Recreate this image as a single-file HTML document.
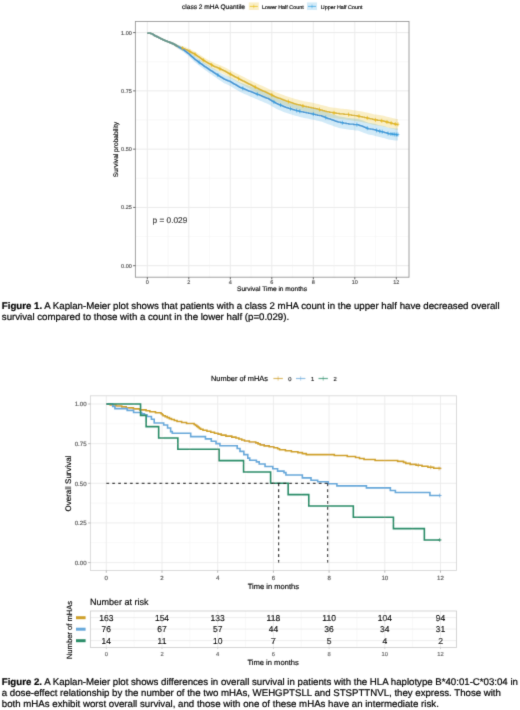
<!DOCTYPE html>
<html><head><meta charset="utf-8"><style>
html,body{margin:0;padding:0;background:#fff;}
body{text-rendering:geometricPrecision;width:520px;height:710px;position:relative;overflow:hidden;font-family:"Liberation Sans", sans-serif;}
svg{position:absolute;left:0;top:0;}
svg text{font-family:"Liberation Sans", sans-serif;stroke-width:0.15px;}
.cap{position:absolute;left:1.8px;font-size:9.68px;line-height:11.2px;color:#000;white-space:nowrap;}
.cap b{font-weight:bold;}
.cap{filter:url(#bl);-webkit-text-stroke:0.2px #000;}
</style></head><body>
<svg width="520" height="710" viewBox="0 0 520 710">
<defs><filter id="bl" x="-5%" y="-20%" width="110%" height="140%"><feConvolveMatrix order="3" kernelMatrix="0.015 0.085 0.015 0.085 0.6 0.085 0.015 0.085 0.015" divisor="1" edgeMode="none" preserveAlpha="false"/></filter></defs>
<g filter="url(#bl)">
<rect x="135.4" y="21.5" width="273.6" height="255.7" fill="#fff"/>
<line x1="168.05" x2="168.05" y1="21.5" y2="277.2" stroke="#f4f4f4" stroke-width="0.6"/>
<line x1="209.55" x2="209.55" y1="21.5" y2="277.2" stroke="#f4f4f4" stroke-width="0.6"/>
<line x1="251.05" x2="251.05" y1="21.5" y2="277.2" stroke="#f4f4f4" stroke-width="0.6"/>
<line x1="292.55" x2="292.55" y1="21.5" y2="277.2" stroke="#f4f4f4" stroke-width="0.6"/>
<line x1="334.05" x2="334.05" y1="21.5" y2="277.2" stroke="#f4f4f4" stroke-width="0.6"/>
<line x1="375.55" x2="375.55" y1="21.5" y2="277.2" stroke="#f4f4f4" stroke-width="0.6"/>
<line x1="135.4" x2="409.0" y1="236.56" y2="236.56" stroke="#f4f4f4" stroke-width="0.6"/>
<line x1="135.4" x2="409.0" y1="178.29" y2="178.29" stroke="#f4f4f4" stroke-width="0.6"/>
<line x1="135.4" x2="409.0" y1="120.01" y2="120.01" stroke="#f4f4f4" stroke-width="0.6"/>
<line x1="135.4" x2="409.0" y1="61.74" y2="61.74" stroke="#f4f4f4" stroke-width="0.6"/>
<line x1="147.30" x2="147.30" y1="21.5" y2="277.2" stroke="#ebebeb" stroke-width="1"/>
<line x1="188.80" x2="188.80" y1="21.5" y2="277.2" stroke="#ebebeb" stroke-width="1"/>
<line x1="230.30" x2="230.30" y1="21.5" y2="277.2" stroke="#ebebeb" stroke-width="1"/>
<line x1="271.80" x2="271.80" y1="21.5" y2="277.2" stroke="#ebebeb" stroke-width="1"/>
<line x1="313.30" x2="313.30" y1="21.5" y2="277.2" stroke="#ebebeb" stroke-width="1"/>
<line x1="354.80" x2="354.80" y1="21.5" y2="277.2" stroke="#ebebeb" stroke-width="1"/>
<line x1="396.30" x2="396.30" y1="21.5" y2="277.2" stroke="#ebebeb" stroke-width="1"/>
<line x1="135.4" x2="409.0" y1="265.70" y2="265.70" stroke="#ebebeb" stroke-width="1"/>
<line x1="135.4" x2="409.0" y1="207.42" y2="207.42" stroke="#ebebeb" stroke-width="1"/>
<line x1="135.4" x2="409.0" y1="149.15" y2="149.15" stroke="#ebebeb" stroke-width="1"/>
<line x1="135.4" x2="409.0" y1="90.88" y2="90.88" stroke="#ebebeb" stroke-width="1"/>
<line x1="135.4" x2="409.0" y1="32.60" y2="32.60" stroke="#ebebeb" stroke-width="1"/>
<path d="M147.30,33.20L148.87,33.23L150.43,33.27L152.00,33.50L153.57,34.46L155.13,35.33L156.70,36.06L158.27,36.79L159.83,37.50L161.40,38.19L162.97,38.88L164.53,39.52L166.10,40.03L167.67,40.54L169.23,41.03L170.80,41.60L172.37,42.17L173.93,42.74L175.50,43.54L177.07,44.34L178.63,45.14L180.20,45.57L181.77,45.99L183.33,46.42L184.90,46.84L186.47,47.53L188.03,48.24L189.60,48.96L191.17,49.68L192.73,50.39L194.30,51.13L195.87,52.12L197.43,53.17L199.00,54.22L200.57,55.27L202.13,56.32L203.70,57.37L205.27,58.25L206.83,59.07L208.40,59.89L209.97,60.71L211.53,61.53L213.10,62.35L214.66,63.06L216.23,63.69L217.80,64.32L219.36,64.96L220.93,65.59L222.50,66.22L224.06,66.93L225.63,67.77L227.20,68.61L228.76,69.45L230.33,70.29L231.90,71.11L233.46,71.91L235.03,72.70L236.60,73.50L238.16,74.29L239.73,75.08L241.30,75.85L242.86,76.61L244.43,77.37L246.00,78.13L247.56,78.90L249.13,79.66L250.70,80.42L252.26,81.18L253.83,81.94L255.40,82.71L256.96,83.47L258.53,84.23L260.10,84.93L261.66,85.62L263.23,86.32L264.80,87.02L266.36,87.71L267.93,88.41L269.50,89.16L271.06,89.94L272.63,90.72L274.20,91.50L275.76,92.18L277.33,92.76L278.90,93.35L280.46,93.93L282.03,94.51L283.60,95.10L285.16,95.66L286.73,96.18L288.30,96.71L289.86,97.23L291.43,97.75L293.00,98.27L294.56,98.76L296.13,99.17L297.70,99.58L299.26,99.98L300.83,100.39L302.40,100.80L303.96,101.19L305.53,101.47L307.10,101.76L308.66,102.04L310.23,102.33L311.80,102.61L313.36,102.90L314.93,103.29L316.50,103.69L318.06,104.09L319.63,104.49L321.20,104.89L322.76,105.29L324.33,105.69L325.90,106.09L327.46,106.49L329.03,106.89L330.60,107.19L332.16,107.41L333.73,107.64L335.29,107.86L336.86,108.09L338.43,108.31L339.99,108.50L341.56,108.64L343.13,108.79L344.69,108.94L346.26,109.09L347.83,109.23L349.39,109.42L350.96,109.68L352.53,109.94L354.09,110.19L355.66,110.45L357.23,110.71L358.79,110.97L360.36,111.27L361.93,111.57L363.49,111.87L365.06,112.17L366.63,112.47L368.19,112.78L369.76,113.18L371.33,113.59L372.89,113.99L374.46,114.38L376.03,114.61L377.59,114.83L379.16,115.05L380.73,115.28L382.29,115.50L383.86,115.73L385.43,116.18L386.99,116.63L388.56,117.09L390.13,117.47L391.69,117.84L393.26,118.21L394.83,118.59L396.39,118.94L397.96,118.94L397.96,129.74L396.39,129.74L394.83,129.38L393.26,128.99L391.69,128.61L390.13,128.22L388.56,127.83L386.99,127.37L385.43,126.90L383.86,126.44L382.29,126.20L380.73,125.96L379.16,125.73L377.59,125.49L376.03,125.26L374.46,125.02L372.89,124.63L371.33,124.21L369.76,123.79L368.19,123.38L366.63,123.06L365.06,122.75L363.49,122.43L361.93,122.12L360.36,121.81L358.79,121.50L357.23,121.22L355.66,120.96L354.09,120.69L352.53,120.42L350.96,120.15L349.39,119.88L347.83,119.68L346.26,119.52L344.69,119.37L343.13,119.21L341.56,119.05L339.99,118.89L338.43,118.69L336.86,118.46L335.29,118.22L333.73,117.99L332.16,117.75L330.60,117.52L329.03,117.21L327.46,116.79L325.90,116.38L324.33,115.97L322.76,115.56L321.20,115.15L319.63,114.73L318.06,114.32L316.50,113.91L314.93,113.50L313.36,113.10L311.80,112.78L310.23,112.47L308.66,112.16L307.10,111.84L305.53,111.53L303.96,111.21L302.40,110.79L300.83,110.36L299.26,109.92L297.70,109.49L296.13,109.05L294.56,108.62L293.00,108.09L291.43,107.54L289.86,106.99L288.30,106.44L286.73,105.89L285.16,105.34L283.60,104.75L282.03,104.14L280.46,103.52L278.90,102.91L277.33,102.29L275.76,101.68L274.20,100.98L272.63,100.17L271.06,99.36L269.50,98.55L267.93,97.77L266.36,97.04L264.80,96.32L263.23,95.59L261.66,94.87L260.10,94.14L258.53,93.39L256.96,92.54L255.40,91.70L253.83,90.85L252.26,90.01L250.70,89.17L249.13,88.32L247.56,87.48L246.00,86.63L244.43,85.79L242.86,84.94L241.30,84.10L239.73,83.25L238.16,82.38L236.60,81.50L235.03,80.62L233.46,79.75L231.90,78.87L230.33,77.96L228.76,77.04L227.20,76.12L225.63,75.20L224.06,74.28L222.50,73.48L220.93,72.77L219.36,72.05L217.80,71.34L216.23,70.62L214.66,69.91L213.10,69.11L211.53,68.17L209.97,67.23L208.40,66.28L206.83,65.34L205.27,64.40L203.70,63.40L202.13,62.23L200.57,61.06L199.00,59.89L197.43,58.72L195.87,57.55L194.30,56.44L192.73,55.57L191.17,54.68L189.60,53.79L188.03,52.90L186.47,52.01L184.90,51.15L183.33,50.56L181.77,49.96L180.20,49.36L178.63,48.76L177.07,47.73L175.50,46.69L173.93,45.65L172.37,44.83L170.80,44.02L169.23,43.21L167.67,42.51L166.10,41.84L164.53,41.18L162.97,40.39L161.40,39.55L159.83,38.71L158.27,37.84L156.70,36.96L155.13,36.08L153.57,35.06L152.00,33.95L150.43,33.57L148.87,33.38L147.30,33.20Z" fill="#E7B800" fill-opacity="0.22"/>
<path d="M147.30,33.20L148.87,33.23L150.43,33.27L152.00,33.50L153.57,34.46L155.13,35.33L156.70,36.06L158.27,36.79L159.83,37.50L161.40,38.19L162.97,38.88L164.53,39.52L166.10,40.03L167.67,40.54L169.23,41.01L170.80,41.55L172.37,42.08L173.93,42.63L175.50,43.40L177.07,44.17L178.63,44.94L180.20,45.75L181.77,46.56L183.33,47.37L184.90,48.40L186.47,49.44L188.03,50.48L189.60,51.74L191.17,53.01L192.73,54.29L194.30,55.61L195.87,56.81L197.43,57.90L199.00,58.99L200.57,60.07L202.13,61.16L203.70,62.25L205.27,63.28L206.83,64.26L208.40,65.23L209.97,66.20L211.53,67.17L213.10,68.15L214.66,69.11L216.23,70.07L217.80,71.03L219.36,71.98L220.93,72.94L222.50,73.90L224.06,74.81L225.63,75.40L227.20,75.99L228.76,76.58L230.33,77.21L231.90,78.07L233.46,78.94L235.03,79.80L236.60,80.66L238.16,81.53L239.73,82.37L241.30,82.97L242.86,83.56L244.43,84.16L246.00,84.75L247.56,85.35L249.13,85.95L250.70,86.50L252.26,87.06L253.83,87.62L255.40,88.18L256.96,88.73L258.53,89.29L260.10,89.89L261.66,90.52L263.23,91.15L264.80,91.77L266.36,92.40L267.93,93.03L269.50,93.85L271.06,94.77L272.63,95.69L274.20,96.61L275.76,97.53L277.33,98.22L278.90,98.88L280.46,99.54L282.03,100.21L283.60,100.87L285.16,101.47L286.73,101.96L288.30,102.45L289.86,102.94L291.43,103.43L293.00,103.92L294.56,104.38L296.13,104.75L297.70,105.13L299.26,105.50L300.83,105.88L302.40,106.25L303.96,106.61L305.53,106.90L307.10,107.19L308.66,107.49L310.23,107.78L311.80,108.07L313.36,108.36L314.93,108.71L316.50,109.06L318.06,109.42L319.63,109.77L321.20,110.13L322.76,110.65L324.33,111.23L325.90,111.81L327.46,112.39L329.03,112.98L330.60,113.53L332.16,114.06L333.73,114.59L335.29,115.12L336.86,115.65L338.43,116.18L339.99,116.58L341.56,116.84L343.13,117.10L344.69,117.36L346.26,117.63L347.83,117.89L349.39,118.10L350.96,118.25L352.53,118.39L354.09,118.54L355.66,118.68L357.23,118.82L358.79,119.05L360.36,119.65L361.93,120.26L363.49,120.86L365.06,121.47L366.63,122.08L368.19,122.66L369.76,122.95L371.33,123.24L372.89,123.52L374.46,123.83L376.03,124.28L377.59,124.73L379.16,125.18L380.73,125.48L382.29,125.78L383.86,126.08L385.43,126.61L386.99,127.14L388.56,127.67L390.13,127.87L391.69,128.06L393.26,128.24L394.83,128.42L396.39,128.60L397.96,128.60L397.96,140.60L396.39,140.60L394.83,140.41L393.26,140.22L391.69,140.02L390.13,139.83L388.56,139.62L386.99,139.08L385.43,138.53L383.86,137.99L382.29,137.68L380.73,137.37L379.16,137.06L377.59,136.60L376.03,136.13L374.46,135.67L372.89,135.35L371.33,135.06L369.76,134.76L368.19,134.46L366.63,133.86L365.06,133.25L363.49,132.63L361.93,132.01L360.36,131.39L358.79,130.77L357.23,130.54L355.66,130.39L354.09,130.23L352.53,130.08L350.96,129.92L349.39,129.76L347.83,129.54L346.26,129.26L344.69,128.99L343.13,128.72L341.56,128.44L339.99,128.17L338.43,127.76L336.86,127.22L335.29,126.68L333.73,126.13L332.16,125.59L330.60,125.05L329.03,124.49L327.46,123.90L325.90,123.30L324.33,122.71L322.76,122.12L321.20,121.59L319.63,121.22L318.06,120.85L316.50,120.49L314.93,120.12L313.36,119.76L311.80,119.45L310.23,119.14L308.66,118.83L307.10,118.53L305.53,118.22L303.96,117.91L302.40,117.53L300.83,117.14L299.26,116.75L297.70,116.35L296.13,115.96L294.56,115.57L293.00,115.09L291.43,114.59L289.86,114.08L288.30,113.57L286.73,113.07L285.16,112.56L283.60,111.94L282.03,111.26L280.46,110.58L278.90,109.90L277.33,109.22L275.76,108.51L274.20,107.57L272.63,106.64L271.06,105.70L269.50,104.76L267.93,103.93L266.36,103.28L264.80,102.63L263.23,101.99L261.66,101.34L260.10,100.70L258.53,100.03L256.96,99.37L255.40,98.70L253.83,98.03L252.26,97.36L250.70,96.70L249.13,96.03L247.56,95.32L246.00,94.62L244.43,93.91L242.86,93.21L241.30,92.50L239.73,91.80L238.16,90.84L236.60,89.87L235.03,88.89L233.46,87.92L231.90,86.95L230.33,85.97L228.76,85.23L227.20,84.53L225.63,83.83L224.06,83.13L222.50,82.11L220.93,81.05L219.36,79.98L217.80,78.91L216.23,77.85L214.66,76.78L213.10,75.70L211.53,74.61L209.97,73.51L208.40,72.42L206.83,71.33L205.27,70.23L203.70,69.08L202.13,67.87L200.57,66.66L199.00,65.45L197.43,64.24L195.87,63.04L194.30,61.72L192.73,60.26L191.17,58.77L189.60,57.27L188.03,55.80L186.47,54.55L184.90,53.29L183.33,52.05L181.77,51.02L180.20,49.99L178.63,48.97L177.07,47.90L175.50,46.83L173.93,45.77L172.37,44.91L170.80,44.08L169.23,43.24L167.67,42.51L166.10,41.84L164.53,41.18L162.97,40.39L161.40,39.55L159.83,38.71L158.27,37.84L156.70,36.96L155.13,36.08L153.57,35.06L152.00,33.95L150.43,33.57L148.87,33.38L147.30,33.20Z" fill="#2E9FDF" fill-opacity="0.22"/>
<path d="M147.30,33.20H150.66V33.67H152.28V34.13H152.99V34.60H153.69V35.06H154.40V35.53H155.27V36.00H156.18V36.46H157.09V36.93H158.01V37.40H158.92V37.86H159.83V38.33H160.79V38.79H161.74V39.26H162.70V39.73H163.65V40.19H164.73V40.66H165.98V41.13H167.22V41.59H168.47V42.06H169.63V42.52H170.71V42.99H171.74V43.46H172.82V43.92H173.86V44.39H174.69V44.85H175.48V45.32H176.27V45.79H177.06V46.25H177.84V46.72H178.63V47.19H180.09V47.65H181.50V48.12H182.95V48.58H184.36V49.05H185.52V49.52H186.43V49.98H187.35V50.45H188.26V50.92H189.17V51.38H190.09V51.85H191.00V52.31H191.91V52.78H192.83V53.25H193.74V53.71H194.61V54.18H195.27V54.65H195.94V55.11H196.60V55.58H197.27V56.04H197.93V56.51H198.59V56.98H199.26V57.44H199.88V57.91H200.54V58.37H201.21V58.84H201.87V59.31H202.54V59.77H203.20V60.24H203.86V60.71H204.57V61.17H205.40V61.64H206.23V62.10H207.06V62.57H207.89V63.04H208.72V63.50H209.55V63.97H210.38V64.44H211.21V64.90H212.04V65.37H212.87V65.83H213.70V66.30H214.82V66.77H215.90V67.23H216.98V67.70H218.06V68.17H219.14V68.63H220.22V69.10H221.29V69.56H222.37V70.03H223.45V70.50H224.28V70.96H225.11V71.43H225.94V71.89H226.77V72.36H227.60V72.83H228.43V73.29H229.26V73.76H230.09V74.23H230.92V74.69H231.79V75.16H232.67V75.62H233.54V76.09H234.41V76.56H235.28V77.02H236.15V77.49H237.02V77.96H237.89V78.42H238.77V78.89H239.64V79.35H240.55V79.82H241.46V80.29H242.38V80.75H243.29V81.22H244.20V81.68H245.12V82.15H246.03V82.62H246.94V83.08H247.85V83.55H248.77V84.02H249.64V84.48H250.55V84.95H251.47V85.41H252.38V85.88H253.29V86.35H254.20V86.81H255.12V87.28H256.03V87.75H256.94V88.21H257.86V88.68H258.73V89.14H259.76V89.61H260.80V90.08H261.84V90.54H262.84V91.01H263.87V91.48H264.91V91.94H265.95V92.41H266.94V92.87H267.98V93.34H268.98V93.81H269.89V94.27H270.80V94.74H271.72V95.20H272.63V95.67H273.54V96.14H274.46V96.60H275.53V97.07H276.78V97.54H277.98V98.00H279.19V98.47H280.43V98.93H281.64V99.40H282.84V99.87H284.08V100.33H285.37V100.80H286.74V101.27H288.11V101.73H289.44V102.20H290.81V102.66H292.18V103.13H293.55V103.60H295.08V104.06H296.82V104.53H298.57V104.99H300.31V105.46H302.05V105.93H303.75V106.39H306.20V106.86H308.65V107.33H311.10V107.79H313.51V108.26H315.33V108.72H317.12V109.19H318.90V109.66H320.73V110.12H322.51V110.59H324.30V111.06H326.12V111.52H327.91V111.99H329.69V112.45H332.89V112.92H336.08V113.39H339.24V113.85H344.01V114.32H348.78V114.79H351.60V115.25H354.38V115.72H357.17V116.18H359.74V116.65H362.15V117.12H364.51V117.58H366.92V118.05H368.99V118.51H370.78V118.98H372.56V119.45H374.31V119.91H377.50V120.38H380.70V120.85H383.85V121.31H385.47V121.78H387.05V122.24H388.62V122.71H390.57V123.18H392.48V123.64H394.39V124.11H396.30V124.58H397.96" fill="none" stroke="#D8B224" stroke-width="1.25"/>
<path d="M147.30,33.20H150.66V33.67H152.28V34.13H152.99V34.60H153.69V35.06H154.40V35.53H155.27V36.00H156.18V36.46H157.09V36.93H158.01V37.40H158.92V37.86H159.83V38.33H160.79V38.79H161.74V39.26H162.70V39.73H163.65V40.19H164.73V40.66H165.98V41.13H167.22V41.59H168.47V42.06H169.63V42.52H170.71V42.99H171.74V43.46H172.82V43.92H173.86V44.39H174.69V44.85H175.48V45.32H176.27V45.79H177.06V46.25H177.84V46.72H178.63V47.19H179.46V47.65H180.25V48.12H181.04V48.58H181.83V49.05H182.62V49.52H183.41V49.98H184.07V50.45H184.69V50.92H185.31V51.38H185.98V51.85H186.60V52.31H187.22V52.78H187.89V53.25H188.47V53.71H189.01V54.18H189.51V54.65H190.05V55.11H190.58V55.58H191.08V56.04H191.62V56.51H192.16V56.98H192.66V57.44H193.20V57.91H193.74V58.37H194.24V58.84H194.78V59.31H195.36V59.77H195.98V60.24H196.64V60.71H197.27V61.17H197.89V61.64H198.55V62.10H199.18V62.57H199.80V63.04H200.46V63.50H201.08V63.97H201.71V64.44H202.37V64.90H202.99V65.37H203.62V65.83H204.28V66.30H204.94V66.77H205.65V67.23H206.35V67.70H207.06V68.17H207.77V68.63H208.47V69.10H209.18V69.56H209.88V70.03H210.59V70.50H211.29V70.96H212.00V71.43H212.70V71.89H213.41V72.36H214.12V72.83H214.86V73.29H215.57V73.76H216.31V74.23H217.02V74.69H217.77V75.16H218.47V75.62H219.18V76.09H219.93V76.56H220.63V77.02H221.38V77.49H222.08V77.96H222.79V78.42H223.54V78.89H224.45V79.35H225.57V79.82H226.73V80.29H227.85V80.75H228.97V81.22H230.09V81.68H230.92V82.15H231.71V82.62H232.50V83.08H233.29V83.55H234.08V84.02H234.87V84.48H235.69V84.95H236.48V85.41H237.27V85.88H238.06V86.35H238.85V86.81H239.64V87.28H240.80V87.75H241.92V88.21H243.04V88.68H244.16V89.14H245.28V89.61H246.40V90.08H247.52V90.54H248.64V91.01H249.81V91.48H251.01V91.94H252.17V92.41H253.37V92.87H254.58V93.34H255.78V93.81H256.94V94.27H258.15V94.74H259.31V95.20H260.47V95.67H261.63V96.14H262.75V96.60H263.92V97.07H265.08V97.54H266.20V98.00H267.36V98.47H268.48V98.93H269.27V99.40H270.06V99.87H270.85V100.33H271.63V100.80H272.42V101.27H273.21V101.73H274.00V102.20H274.79V102.66H275.58V103.13H276.53V103.60H277.61V104.06H278.69V104.53H279.77V104.99H280.89V105.46H281.97V105.93H283.05V106.39H284.13V106.86H285.41V107.33H286.91V107.79H288.36V108.26H289.81V108.72H291.31V109.19H292.76V109.66H294.21V110.12H296.12V110.59H298.03V111.06H299.94V111.52H301.85V111.99H303.75V112.45H306.20V112.92H308.65V113.39H311.10V113.85H313.51V114.32H315.54V114.79H317.57V115.25H319.61V115.72H321.60V116.18H322.85V116.65H324.09V117.12H325.34V117.58H326.58V118.05H327.83V118.51H329.07V118.98H330.40V119.45H331.77V119.91H333.14V120.38H334.47V120.85H335.83V121.31H337.20V121.78H338.57V122.24H340.61V122.71H343.35V123.18H346.09V123.64H348.78V124.11H353.68V124.58H358.53V125.04H359.74V125.51H360.94V125.97H362.15V126.44H363.31V126.91H364.51V127.37H365.71V127.84H366.92V128.30H368.08V128.77H370.57V129.24H373.06V129.70H375.13V130.17H376.71V130.64H378.29V131.10H380.28V131.57H382.69V132.03H384.56V132.50H385.93V132.97H387.29V133.43H388.62V133.90H392.48V134.37H396.30V134.83H397.96" fill="none" stroke="#3A93D2" stroke-width="1.25"/>
<path d="M147.30,33.20H150.66V33.67H152.28V34.13H152.99V34.60H153.69V35.06H154.40V35.53H155.27V36.00H156.18V36.46H157.09V36.93H158.01V37.40H158.92V37.86H159.83V38.33H160.79V38.79H161.74V39.26H162.70V39.73H163.65V40.19H164.73V40.66H165.98V41.13H167.22V41.59H168.47V42.06H169.63V42.52H170.71V42.99H171.74V43.46H172.82V43.92H173.86V44.39H174.69V44.85H175.48V45.32H176.27V45.79H177.06V46.25H177.84V46.72H177.84" fill="none" stroke="#66978C" stroke-width="1.4"/>
<path d="M182.58,46.24V50.24M181.18,48.24H183.98M189.84,49.50V53.50M188.44,51.50H191.24M195.03,52.24V56.24M193.62,54.24H196.43M203.33,58.12V62.12M201.93,60.12H204.73M211.62,62.90V66.90M210.22,64.90H213.03M219.93,66.75V70.75M218.53,68.75H221.33M230.30,72.11V76.11M228.90,74.11H231.70M238.60,76.57V80.57M237.20,78.57H240.00M255.20,85.10V89.10M253.80,87.10H256.60M271.80,93.02V97.02M270.40,95.02H273.20M288.40,99.61V103.61M287.00,101.61H289.80M302.93,103.94V107.94M301.53,105.94H304.32M319.53,107.59V111.59M318.13,109.59H320.93M334.05,110.86V114.86M332.65,112.86H335.45M348.57,112.53V116.53M347.18,114.53H349.97M358.95,114.26V118.26M357.55,116.26H360.35M367.25,115.89V119.89M365.85,117.89H368.65M375.55,117.86V121.86M374.15,119.86H376.95M381.78,118.77V122.77M380.38,120.77H383.18M386.96,119.99V123.99M385.56,121.99H388.36M391.11,121.08V125.08M389.71,123.08H392.51M395.26,122.09V126.09M393.86,124.09H396.66M397.96,122.34V126.34M396.56,124.34H399.36" fill="none" stroke="#E7B800" stroke-width="0.7"/>
<path d="M199.18,60.35V64.35M197.78,62.35H200.58M217.85,73.00V77.00M216.45,75.00H219.25M242.75,86.34V90.34M241.35,88.34H244.15M257.27,92.17V96.17M255.87,94.17H258.67M273.88,99.90V103.90M272.48,101.90H275.27M280.51,103.08V107.08M279.12,105.08H281.91M290.48,106.70V110.70M289.08,108.70H291.88M296.70,108.50V112.50M295.30,110.50H298.10M299.81,109.26V113.26M298.41,111.26H301.21M313.30,112.05V116.05M311.90,114.05H314.70M325.75,115.50V119.50M324.35,117.50H327.15M342.35,120.78V124.78M340.95,122.78H343.75M356.88,122.65V126.65M355.48,124.65H358.27M367.25,126.21V130.21M365.85,128.21H368.65M376.59,128.37V132.37M375.19,130.37H377.99M379.70,129.22V133.22M378.30,131.22H381.10M382.19,129.71V133.71M380.79,131.71H383.59M388.00,131.45V135.45M386.60,133.45H389.40M390.91,131.94V135.94M389.51,133.94H392.31M392.98,132.20V136.20M391.58,134.20H394.38M394.64,132.40V136.40M393.24,134.40H396.04M396.30,132.60V136.60M394.90,134.60H397.70M397.96,132.60V136.60M396.56,134.60H399.36" fill="none" stroke="#2E9FDF" stroke-width="0.7"/>
<rect x="135.4" y="21.5" width="273.6" height="255.7" fill="none" stroke="#939393" stroke-width="0.9"/>
<line x1="133.2" x2="135.4" y1="265.70" y2="265.70" stroke="#333" stroke-width="0.8"/>
<text x="131.8" y="267.70" font-size="5.5" fill="#4d4d4d" stroke="#4d4d4d" text-anchor="end">0.00</text>
<line x1="133.2" x2="135.4" y1="207.42" y2="207.42" stroke="#333" stroke-width="0.8"/>
<text x="131.8" y="209.42" font-size="5.5" fill="#4d4d4d" stroke="#4d4d4d" text-anchor="end">0.25</text>
<line x1="133.2" x2="135.4" y1="149.15" y2="149.15" stroke="#333" stroke-width="0.8"/>
<text x="131.8" y="151.15" font-size="5.5" fill="#4d4d4d" stroke="#4d4d4d" text-anchor="end">0.50</text>
<line x1="133.2" x2="135.4" y1="90.88" y2="90.88" stroke="#333" stroke-width="0.8"/>
<text x="131.8" y="92.88" font-size="5.5" fill="#4d4d4d" stroke="#4d4d4d" text-anchor="end">0.75</text>
<line x1="133.2" x2="135.4" y1="32.60" y2="32.60" stroke="#333" stroke-width="0.8"/>
<text x="131.8" y="34.60" font-size="5.5" fill="#4d4d4d" stroke="#4d4d4d" text-anchor="end">1.00</text>
<line x1="147.30" x2="147.30" y1="277.2" y2="279.4" stroke="#333" stroke-width="0.8"/>
<text x="147.30" y="284.30" font-size="5.5" fill="#4d4d4d" stroke="#4d4d4d" text-anchor="middle">0</text>
<line x1="188.80" x2="188.80" y1="277.2" y2="279.4" stroke="#333" stroke-width="0.8"/>
<text x="188.80" y="284.30" font-size="5.5" fill="#4d4d4d" stroke="#4d4d4d" text-anchor="middle">2</text>
<line x1="230.30" x2="230.30" y1="277.2" y2="279.4" stroke="#333" stroke-width="0.8"/>
<text x="230.30" y="284.30" font-size="5.5" fill="#4d4d4d" stroke="#4d4d4d" text-anchor="middle">4</text>
<line x1="271.80" x2="271.80" y1="277.2" y2="279.4" stroke="#333" stroke-width="0.8"/>
<text x="271.80" y="284.30" font-size="5.5" fill="#4d4d4d" stroke="#4d4d4d" text-anchor="middle">6</text>
<line x1="313.30" x2="313.30" y1="277.2" y2="279.4" stroke="#333" stroke-width="0.8"/>
<text x="313.30" y="284.30" font-size="5.5" fill="#4d4d4d" stroke="#4d4d4d" text-anchor="middle">8</text>
<line x1="354.80" x2="354.80" y1="277.2" y2="279.4" stroke="#333" stroke-width="0.8"/>
<text x="354.80" y="284.30" font-size="5.5" fill="#4d4d4d" stroke="#4d4d4d" text-anchor="middle">10</text>
<line x1="396.30" x2="396.30" y1="277.2" y2="279.4" stroke="#333" stroke-width="0.8"/>
<text x="396.30" y="284.30" font-size="5.5" fill="#4d4d4d" stroke="#4d4d4d" text-anchor="middle">12</text>
<text x="272" y="291.3" font-size="6.6" fill="#000" stroke="#000" text-anchor="middle">Survival Time in months</text>
<text transform="translate(118.3,149.5) rotate(-90)" font-size="6.6" fill="#000" stroke="#000" text-anchor="middle">Survival probability</text>
<text x="152.5" y="222.5" font-size="8.3" fill="#000" stroke="#000">p = 0.029</text>
<text x="182" y="9.0" font-size="6.6" fill="#000" stroke="#000">class 2 mHA Quantile</text>
<rect x="248.8" y="2.4" width="10" height="7.6" fill="#E7B800" fill-opacity="0.22"/>
<line x1="249.8" x2="257.8" y1="6.4" y2="6.4" stroke="#E7B800" stroke-width="0.9" stroke-opacity="0.75"/>
<line x1="253.8" x2="253.8" y1="4.6" y2="8.2" stroke="#E7B800" stroke-width="0.6" stroke-opacity="0.75"/>
<text x="262.0" y="8.6" font-size="5.4" fill="#000" stroke="#000">Lower Half Count</text>
<rect x="307.0" y="2.4" width="10" height="7.6" fill="#2E9FDF" fill-opacity="0.22"/>
<line x1="308.0" x2="316.0" y1="6.4" y2="6.4" stroke="#2E9FDF" stroke-width="0.9" stroke-opacity="0.75"/>
<line x1="312.0" x2="312.0" y1="4.6" y2="8.2" stroke="#2E9FDF" stroke-width="0.6" stroke-opacity="0.75"/>
<text x="320.8" y="8.6" font-size="5.4" fill="#000" stroke="#000">Upper Half Count</text>
<line x1="134.15" x2="134.15" y1="395.8" y2="570.5" stroke="#f3f3f3" stroke-width="0.6"/>
<line x1="189.85" x2="189.85" y1="395.8" y2="570.5" stroke="#f3f3f3" stroke-width="0.6"/>
<line x1="245.55" x2="245.55" y1="395.8" y2="570.5" stroke="#f3f3f3" stroke-width="0.6"/>
<line x1="301.25" x2="301.25" y1="395.8" y2="570.5" stroke="#f3f3f3" stroke-width="0.6"/>
<line x1="356.95" x2="356.95" y1="395.8" y2="570.5" stroke="#f3f3f3" stroke-width="0.6"/>
<line x1="412.65" x2="412.65" y1="395.8" y2="570.5" stroke="#f3f3f3" stroke-width="0.6"/>
<line x1="90.4" x2="456.5" y1="542.77" y2="542.77" stroke="#f3f3f3" stroke-width="0.6"/>
<line x1="90.4" x2="456.5" y1="503.12" y2="503.12" stroke="#f3f3f3" stroke-width="0.6"/>
<line x1="90.4" x2="456.5" y1="463.48" y2="463.48" stroke="#f3f3f3" stroke-width="0.6"/>
<line x1="90.4" x2="456.5" y1="423.83" y2="423.83" stroke="#f3f3f3" stroke-width="0.6"/>
<line x1="106.30" x2="106.30" y1="395.8" y2="570.5" stroke="#ebebeb" stroke-width="0.9"/>
<line x1="162.00" x2="162.00" y1="395.8" y2="570.5" stroke="#ebebeb" stroke-width="0.9"/>
<line x1="217.70" x2="217.70" y1="395.8" y2="570.5" stroke="#ebebeb" stroke-width="0.9"/>
<line x1="273.40" x2="273.40" y1="395.8" y2="570.5" stroke="#ebebeb" stroke-width="0.9"/>
<line x1="329.10" x2="329.10" y1="395.8" y2="570.5" stroke="#ebebeb" stroke-width="0.9"/>
<line x1="384.80" x2="384.80" y1="395.8" y2="570.5" stroke="#ebebeb" stroke-width="0.9"/>
<line x1="440.50" x2="440.50" y1="395.8" y2="570.5" stroke="#ebebeb" stroke-width="0.9"/>
<line x1="90.4" x2="456.5" y1="562.60" y2="562.60" stroke="#ebebeb" stroke-width="0.9"/>
<line x1="90.4" x2="456.5" y1="522.95" y2="522.95" stroke="#ebebeb" stroke-width="0.9"/>
<line x1="90.4" x2="456.5" y1="483.30" y2="483.30" stroke="#ebebeb" stroke-width="0.9"/>
<line x1="90.4" x2="456.5" y1="443.65" y2="443.65" stroke="#ebebeb" stroke-width="0.9"/>
<line x1="90.4" x2="456.5" y1="404.00" y2="404.00" stroke="#ebebeb" stroke-width="0.9"/>
<rect x="90.4" y="395.8" width="366.1" height="174.7" fill="none" stroke="#d8d8d8" stroke-width="0.9"/>
<path d="M106.30,404.00H110.25V404.97H115.94V405.95H121.73V406.92H126.24V407.89H133.43V408.87H139.72V409.84H146.07V410.81H149.86V411.78H155.48V412.76H161.11V413.73H162.28V414.70H163.06V415.68H165.17V416.65H167.29V417.62H169.41V418.60H171.52V419.57H174.31V420.54H177.04V421.51H181.66V422.49H186.51V423.46H194.14V424.43H195.48V425.41H196.81V426.38H198.09V427.35H199.32V428.33H200.60V429.30H203.00V430.27H206.95V431.24H210.79V432.22H214.47V433.19H218.03V434.16H221.26V435.14H225.94V436.11H231.79V437.08H235.91V438.06H238.92V439.03H241.76V440.00H244.55V440.97H249.34V441.95H255.74V442.92H258.03V443.89H260.31V444.87H264.21V445.84H269.17V446.81H273.79V447.79H277.63V448.76H279.53V449.73H285.43V450.70H291.39V451.68H297.91V452.65H302.36V453.62H306.26V454.60H334.34V455.57H347.26V456.54H355.56V457.52H359.51V458.49H364.02V459.46H375.11V460.43H397.67V461.41H403.52V462.38H405.74V463.35H410.20V464.33H416.05V465.30H422.01V466.27H427.91V467.25H433.70V468.22H440.50V469.19H440.50" fill="none" stroke="#CFA02C" stroke-width="1.6"/>
<path d="M106.30,404.00H112.71V406.38H114.93V408.60H127.19V410.34H133.59V412.56H141.67V413.83H144.45V414.94H147.24V416.53H151.42V419.23H154.20V423.03H163.67V424.94H167.57V427.95H170.63V431.60H172.30V433.18H190.69V436.67H205.45V438.89H211.29V441.27H216.03V443.65H219.93V445.71H237.19V448.57H239.98V451.42H243.88V454.59H247.78V458.08H249.73V460.30H256.41V461.89H259.20V463.95H265.05V466.49H272.84V468.71H277.58V471.09H283.98V472.67H285.93V475.05H302.36V477.91H311.00V480.29H317.68V481.71H328.26V483.78H336.90V485.84H366.42V487.90H390.37V490.44H395.38V492.50H429.92V495.51H440.50" fill="none" stroke="#67A8DA" stroke-width="1.6"/>
<path d="M106.30,404.00H140.56V415.33H146.13V426.66H158.66V437.99H177.87V449.31H219.09V460.64H243.60V471.97H270.62V483.30H288.16V494.63H308.77V505.96H353.33V517.29H393.43V528.61H424.35V539.94H440.50" fill="none" stroke="#2A8C68" stroke-width="1.6"/>
<path d="M418.22,463.17V467.17M416.22,465.17H420.22" stroke="#CFA02C" stroke-width="0.7" fill="none"/>
<path d="M430.75,465.24V469.24M428.75,467.24H432.75" stroke="#CFA02C" stroke-width="0.7" fill="none"/>
<path d="M439.11,466.51V470.51M437.11,468.51H441.11" stroke="#CFA02C" stroke-width="0.7" fill="none"/>
<path d="M439.66,493.51V497.51M437.66,495.51H441.66" stroke="#67A8DA" stroke-width="0.7" fill="none"/>
<path d="M439.66,537.94V541.94M437.66,539.94H441.66" stroke="#2A8C68" stroke-width="0.7" fill="none"/>
<path d="M106.30,483.30H327.71" stroke="#111" stroke-width="1.0" stroke-dasharray="2.9,3.0" fill="none"/>
<path d="M278.69,483.30V562.60" stroke="#111" stroke-width="1.0" stroke-dasharray="2.9,3.0" fill="none"/>
<path d="M327.71,483.30V562.60" stroke="#111" stroke-width="1.0" stroke-dasharray="2.9,3.0" fill="none"/>
<line x1="88.2" x2="90.4" y1="562.60" y2="562.60" stroke="#999" stroke-width="0.7"/>
<text x="86.6" y="564.80" font-size="6.1" fill="#555" stroke="#555" text-anchor="end">0.00</text>
<line x1="88.2" x2="90.4" y1="522.95" y2="522.95" stroke="#999" stroke-width="0.7"/>
<text x="86.6" y="525.15" font-size="6.1" fill="#555" stroke="#555" text-anchor="end">0.25</text>
<line x1="88.2" x2="90.4" y1="483.30" y2="483.30" stroke="#999" stroke-width="0.7"/>
<text x="86.6" y="485.50" font-size="6.1" fill="#555" stroke="#555" text-anchor="end">0.50</text>
<line x1="88.2" x2="90.4" y1="443.65" y2="443.65" stroke="#999" stroke-width="0.7"/>
<text x="86.6" y="445.85" font-size="6.1" fill="#555" stroke="#555" text-anchor="end">0.75</text>
<line x1="88.2" x2="90.4" y1="404.00" y2="404.00" stroke="#999" stroke-width="0.7"/>
<text x="86.6" y="406.20" font-size="6.1" fill="#555" stroke="#555" text-anchor="end">1.00</text>
<line x1="106.30" x2="106.30" y1="570.5" y2="572.7" stroke="#999" stroke-width="0.7"/>
<text x="106.30" y="579.50" font-size="6.1" fill="#555" stroke="#555" text-anchor="middle">0</text>
<line x1="162.00" x2="162.00" y1="570.5" y2="572.7" stroke="#999" stroke-width="0.7"/>
<text x="162.00" y="579.50" font-size="6.1" fill="#555" stroke="#555" text-anchor="middle">2</text>
<line x1="217.70" x2="217.70" y1="570.5" y2="572.7" stroke="#999" stroke-width="0.7"/>
<text x="217.70" y="579.50" font-size="6.1" fill="#555" stroke="#555" text-anchor="middle">4</text>
<line x1="273.40" x2="273.40" y1="570.5" y2="572.7" stroke="#999" stroke-width="0.7"/>
<text x="273.40" y="579.50" font-size="6.1" fill="#555" stroke="#555" text-anchor="middle">6</text>
<line x1="329.10" x2="329.10" y1="570.5" y2="572.7" stroke="#999" stroke-width="0.7"/>
<text x="329.10" y="579.50" font-size="6.1" fill="#555" stroke="#555" text-anchor="middle">8</text>
<line x1="384.80" x2="384.80" y1="570.5" y2="572.7" stroke="#999" stroke-width="0.7"/>
<text x="384.80" y="579.50" font-size="6.1" fill="#555" stroke="#555" text-anchor="middle">10</text>
<line x1="440.50" x2="440.50" y1="570.5" y2="572.7" stroke="#999" stroke-width="0.7"/>
<text x="440.50" y="579.50" font-size="6.1" fill="#555" stroke="#555" text-anchor="middle">12</text>
<text x="273.4" y="588.6" font-size="7.55" fill="#000" stroke="#000" text-anchor="middle">Time in months</text>
<text transform="translate(71.3,483.5) rotate(-90)" font-size="8.0" fill="#000" stroke="#000" text-anchor="middle">Overall Survival</text>
<text x="211" y="381.2" font-size="7.43" fill="#000" stroke="#000">Number of mHAs</text>
<line x1="273.4" x2="282.8" y1="378.5" y2="378.5" stroke="#CFA02C" stroke-width="1.2" stroke-opacity="0.7"/>
<line x1="278.1" x2="278.1" y1="376.3" y2="380.7" stroke="#CFA02C" stroke-width="0.7" stroke-opacity="0.7"/>
<text x="288.3" y="380.6" font-size="5.8" fill="#222" stroke="#222">0</text>
<line x1="296.0" x2="305.4" y1="378.5" y2="378.5" stroke="#67A8DA" stroke-width="1.2" stroke-opacity="0.7"/>
<line x1="300.7" x2="300.7" y1="376.3" y2="380.7" stroke="#67A8DA" stroke-width="0.7" stroke-opacity="0.7"/>
<text x="311.0" y="380.6" font-size="5.8" fill="#222" stroke="#222">1</text>
<line x1="318.5" x2="327.9" y1="378.5" y2="378.5" stroke="#2A8C68" stroke-width="1.2" stroke-opacity="0.7"/>
<line x1="323.2" x2="323.2" y1="376.3" y2="380.7" stroke="#2A8C68" stroke-width="0.7" stroke-opacity="0.7"/>
<text x="333.4" y="380.6" font-size="5.8" fill="#222" stroke="#222">2</text>
<text x="90" y="605" font-size="9.0" fill="#000" stroke="#000">Number at risk</text>
<line x1="106.30" x2="106.30" y1="611.0" y2="647.5" stroke="#ebebeb" stroke-width="0.9"/>
<line x1="134.15" x2="134.15" y1="611.0" y2="647.5" stroke="#f3f3f3" stroke-width="0.6"/>
<line x1="162.00" x2="162.00" y1="611.0" y2="647.5" stroke="#ebebeb" stroke-width="0.9"/>
<line x1="189.85" x2="189.85" y1="611.0" y2="647.5" stroke="#f3f3f3" stroke-width="0.6"/>
<line x1="217.70" x2="217.70" y1="611.0" y2="647.5" stroke="#ebebeb" stroke-width="0.9"/>
<line x1="245.55" x2="245.55" y1="611.0" y2="647.5" stroke="#f3f3f3" stroke-width="0.6"/>
<line x1="273.40" x2="273.40" y1="611.0" y2="647.5" stroke="#ebebeb" stroke-width="0.9"/>
<line x1="301.25" x2="301.25" y1="611.0" y2="647.5" stroke="#f3f3f3" stroke-width="0.6"/>
<line x1="329.10" x2="329.10" y1="611.0" y2="647.5" stroke="#ebebeb" stroke-width="0.9"/>
<line x1="356.95" x2="356.95" y1="611.0" y2="647.5" stroke="#f3f3f3" stroke-width="0.6"/>
<line x1="384.80" x2="384.80" y1="611.0" y2="647.5" stroke="#ebebeb" stroke-width="0.9"/>
<line x1="412.65" x2="412.65" y1="611.0" y2="647.5" stroke="#f3f3f3" stroke-width="0.6"/>
<line x1="440.50" x2="440.50" y1="611.0" y2="647.5" stroke="#ebebeb" stroke-width="0.9"/>
<line x1="90.4" x2="456.5" y1="617.6" y2="617.6" stroke="#ebebeb" stroke-width="0.9"/>
<line x1="90.4" x2="456.5" y1="629.1" y2="629.1" stroke="#ebebeb" stroke-width="0.9"/>
<line x1="90.4" x2="456.5" y1="640.6" y2="640.6" stroke="#ebebeb" stroke-width="0.9"/>
<rect x="90.4" y="611.0" width="366.1" height="36.5" fill="none" stroke="#d0d0d0" stroke-width="0.9"/>
<rect x="76.0" y="616.2" width="9.6" height="3.0" fill="#CFA02C"/>
<text x="106.30" y="620.65" font-size="8.5" fill="#000" stroke="#000" text-anchor="middle" style="stroke-width:0.2px">163</text>
<text x="162.00" y="620.65" font-size="8.5" fill="#000" stroke="#000" text-anchor="middle" style="stroke-width:0.2px">154</text>
<text x="217.70" y="620.65" font-size="8.5" fill="#000" stroke="#000" text-anchor="middle" style="stroke-width:0.2px">133</text>
<text x="273.40" y="620.65" font-size="8.5" fill="#000" stroke="#000" text-anchor="middle" style="stroke-width:0.2px">118</text>
<text x="329.10" y="620.65" font-size="8.5" fill="#000" stroke="#000" text-anchor="middle" style="stroke-width:0.2px">110</text>
<text x="384.80" y="620.65" font-size="8.5" fill="#000" stroke="#000" text-anchor="middle" style="stroke-width:0.2px">104</text>
<text x="440.50" y="620.65" font-size="8.5" fill="#000" stroke="#000" text-anchor="middle" style="stroke-width:0.2px">94</text>
<rect x="76.0" y="627.7" width="9.6" height="3.0" fill="#67A8DA"/>
<text x="106.30" y="632.15" font-size="8.5" fill="#000" stroke="#000" text-anchor="middle" style="stroke-width:0.2px">76</text>
<text x="162.00" y="632.15" font-size="8.5" fill="#000" stroke="#000" text-anchor="middle" style="stroke-width:0.2px">67</text>
<text x="217.70" y="632.15" font-size="8.5" fill="#000" stroke="#000" text-anchor="middle" style="stroke-width:0.2px">57</text>
<text x="273.40" y="632.15" font-size="8.5" fill="#000" stroke="#000" text-anchor="middle" style="stroke-width:0.2px">44</text>
<text x="329.10" y="632.15" font-size="8.5" fill="#000" stroke="#000" text-anchor="middle" style="stroke-width:0.2px">36</text>
<text x="384.80" y="632.15" font-size="8.5" fill="#000" stroke="#000" text-anchor="middle" style="stroke-width:0.2px">34</text>
<text x="440.50" y="632.15" font-size="8.5" fill="#000" stroke="#000" text-anchor="middle" style="stroke-width:0.2px">31</text>
<rect x="76.0" y="639.2" width="9.6" height="3.0" fill="#2A8C68"/>
<text x="106.30" y="643.65" font-size="8.5" fill="#000" stroke="#000" text-anchor="middle" style="stroke-width:0.2px">14</text>
<text x="162.00" y="643.65" font-size="8.5" fill="#000" stroke="#000" text-anchor="middle" style="stroke-width:0.2px">11</text>
<text x="217.70" y="643.65" font-size="8.5" fill="#000" stroke="#000" text-anchor="middle" style="stroke-width:0.2px">10</text>
<text x="273.40" y="643.65" font-size="8.5" fill="#000" stroke="#000" text-anchor="middle" style="stroke-width:0.2px">7</text>
<text x="329.10" y="643.65" font-size="8.5" fill="#000" stroke="#000" text-anchor="middle" style="stroke-width:0.2px">5</text>
<text x="384.80" y="643.65" font-size="8.5" fill="#000" stroke="#000" text-anchor="middle" style="stroke-width:0.2px">4</text>
<text x="440.50" y="643.65" font-size="8.5" fill="#000" stroke="#000" text-anchor="middle" style="stroke-width:0.2px">2</text>
<line x1="106.30" x2="106.30" y1="647.5" y2="649.1" stroke="#bbb" stroke-width="0.6"/>
<text x="106.30" y="655.60" font-size="5.8" fill="#666" stroke="#666" text-anchor="middle">0</text>
<line x1="162.00" x2="162.00" y1="647.5" y2="649.1" stroke="#bbb" stroke-width="0.6"/>
<text x="162.00" y="655.60" font-size="5.8" fill="#666" stroke="#666" text-anchor="middle">2</text>
<line x1="217.70" x2="217.70" y1="647.5" y2="649.1" stroke="#bbb" stroke-width="0.6"/>
<text x="217.70" y="655.60" font-size="5.8" fill="#666" stroke="#666" text-anchor="middle">4</text>
<line x1="273.40" x2="273.40" y1="647.5" y2="649.1" stroke="#bbb" stroke-width="0.6"/>
<text x="273.40" y="655.60" font-size="5.8" fill="#666" stroke="#666" text-anchor="middle">6</text>
<line x1="329.10" x2="329.10" y1="647.5" y2="649.1" stroke="#bbb" stroke-width="0.6"/>
<text x="329.10" y="655.60" font-size="5.8" fill="#666" stroke="#666" text-anchor="middle">8</text>
<line x1="384.80" x2="384.80" y1="647.5" y2="649.1" stroke="#bbb" stroke-width="0.6"/>
<text x="384.80" y="655.60" font-size="5.8" fill="#666" stroke="#666" text-anchor="middle">10</text>
<line x1="440.50" x2="440.50" y1="647.5" y2="649.1" stroke="#bbb" stroke-width="0.6"/>
<text x="440.50" y="655.60" font-size="5.8" fill="#666" stroke="#666" text-anchor="middle">12</text>
<text x="273.2" y="665.2" font-size="7.55" fill="#000" stroke="#000" text-anchor="middle">Time in months</text>
<text transform="translate(72.0,630) rotate(-90)" font-size="7.6" fill="#000" stroke="#000" text-anchor="middle">Number of mHAs</text>
</g>
</svg>
<div class="cap" style="top:301.0px">
<b>Figure 1.</b> A Kaplan-Meier plot shows that patients with a class 2 mHA count in the upper half have decreased overall<br><span style="letter-spacing:0px">survival compared to those with a count in the lower half (p=0.029).</span>
</div>
<div class="cap" style="top:677.0px">
<span style="letter-spacing:-0.012px"><b>Figure 2.</b> A Kaplan-Meier plot shows differences in overall survival in patients with the HLA haplotype B*40:01-C*03:04 in</span><br><span style="letter-spacing:-0.011px">a dose-effect relationship by the number of the two mHAs, WEHGPTSLL and STSPTTNVL, they express. Those with</span><br>both mHAs exhibit worst overall survival, and those with one of these mHAs have an intermediate risk.
</div>
</body></html>
